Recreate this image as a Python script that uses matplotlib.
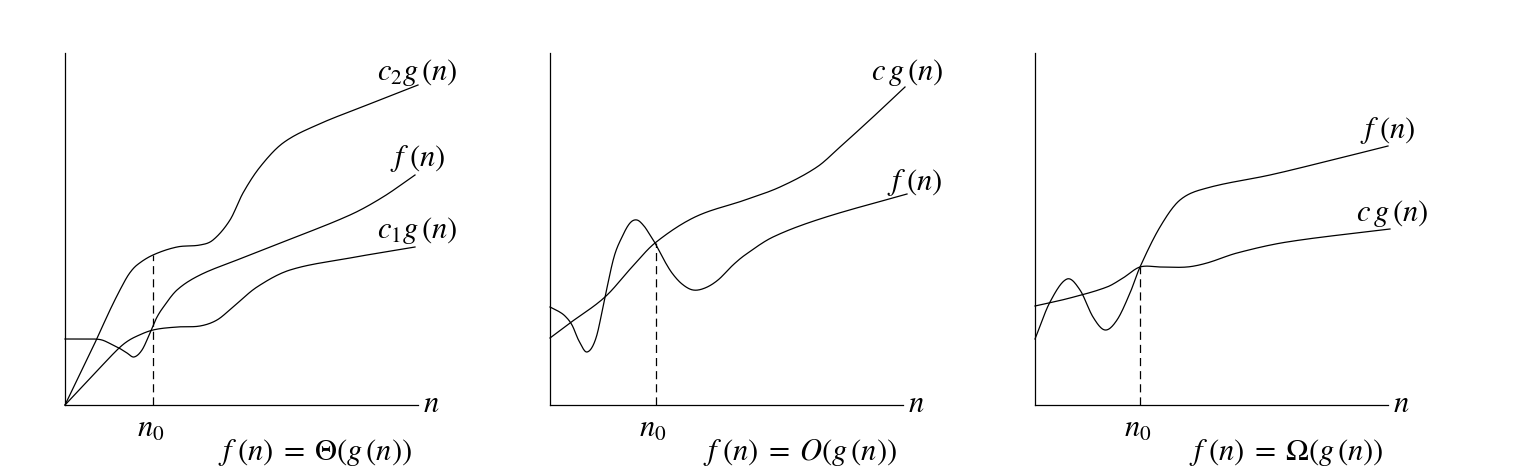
import numpy as np
import matplotlib
matplotlib.use("Agg")
import matplotlib.pyplot as plt

plt.rcParams['mathtext.fontset'] = 'stix'
plt.rcParams['font.family'] = 'STIXGeneral'

# hand-read knots, x = distance along n, y = height (pixel units of the picture)
theta_c2_x = [0, 28, 45, 56, 64, 72, 88, 112, 135, 148, 165, 178, 195, 218, 252, 302, 353]
theta_c2_y = [0, 58, 95, 117, 131, 140, 150, 158, 160, 165, 185, 212, 238, 262, 280, 300, 320]
theta_f_x = [0, 28, 37, 46, 54, 62, 69, 77, 85, 91, 97, 112, 135, 172, 218, 285, 318, 350]
theta_f_y = [66, 66, 65, 61, 57, 52, 48, 55, 72, 86, 96, 115, 130, 145, 163, 190, 208, 230]
theta_c1_x = [0, 25, 50, 60, 70, 88, 112, 135, 152, 168, 192, 225, 285, 350]
theta_c1_y = [0, 26.5, 53, 62, 68, 75, 78, 79, 85, 98, 118, 135, 147, 158]

bigo_cg_x = [0, 20, 55, 82, 105, 145, 195, 230, 267, 290, 323, 355]
bigo_cg_y = [67, 82, 108, 138, 162, 188, 205, 218, 238, 258, 288, 318]
bigo_f_x = [0, 8, 15, 22, 29, 37, 46, 55, 64, 72, 80, 87, 94, 100, 105, 114, 122, 132, 143, 155,
            168, 183, 195, 223, 273, 357]
bigo_f_y = [98, 94, 89, 80, 64, 53, 67, 108, 148, 168, 182, 185, 179, 170, 162, 145, 132, 121, 115,
            117, 125, 140, 150, 168, 187, 211]

omega_cg_x = [0, 35, 72, 88, 105, 125, 152, 172, 202, 252, 355]
omega_cg_y = [99, 107, 118, 127, 138, 138, 138, 142, 152, 163, 176]
omega_f_x = [0, 15, 32, 45, 58, 70, 82, 95, 105, 125, 145, 172, 235, 285, 353]
omega_f_y = [66, 103, 126, 115, 88, 75, 85, 112, 138, 178, 205, 217, 230, 242, 259]

n0_pos = [88, 106, 105]
n0_top = [150, 162, 138]
captions = [r'$f\;(n)\;=\;\Theta(g\,(n))$', r'$f\;(n)\;=\;O(g\,(n))$',
            r'$f\;(n)\;=\;\Omega(g\,(n))$']


def smooth(xs, ys, k=20):
    # cubic Hermite in x, tangents from neighbouring knots
    x = np.asarray(xs, float)
    y = np.asarray(ys, float)
    m = np.empty_like(y)
    m[1:-1] = (y[2:] - y[:-2]) / (x[2:] - x[:-2])
    m[0] = (y[1] - y[0]) / (x[1] - x[0])
    m[-1] = (y[-1] - y[-2]) / (x[-1] - x[-2])
    px, py = [], []
    for i in range(len(x) - 1):
        h = x[i + 1] - x[i]
        t = np.linspace(0, 1, k, endpoint=False)
        h00 = 2 * t**3 - 3 * t**2 + 1
        h10 = t**3 - 2 * t**2 + t
        h01 = -2 * t**3 + 3 * t**2
        h11 = t**3 - t**2
        px.append(x[i] + t * h)
        py.append(h00 * y[i] + h10 * h * m[i] + h01 * y[i + 1] + h11 * h * m[i + 1])
    px.append([x[-1]])
    py.append([y[-1]])
    return np.concatenate(px), np.concatenate(py)


W, H = 1533, 473
fig = plt.figure(figsize=(W / 100, H / 100), dpi=100)

lefts = [65, 550, 1035]
axes = []
for left in lefts:
    ax = fig.add_axes([left / W, (H - 405) / H, 353 / W, 352 / H])
    ax.set_xlim(0, 353)
    ax.set_ylim(0, 352)
    for s in ['top', 'right']:
        ax.spines[s].set_visible(False)
    for s in ['left', 'bottom']:
        ax.spines[s].set_linewidth(0.9)
    ax.set_xticks([])
    ax.set_yticks([])
    axes.append(ax)

lw = 0.9
curves = [
    [(theta_c2_x, theta_c2_y), (theta_f_x, theta_f_y), (theta_c1_x, theta_c1_y)],
    [(bigo_cg_x, bigo_cg_y), (bigo_f_x, bigo_f_y)],
    [(omega_cg_x, omega_cg_y), (omega_f_x, omega_f_y)],
]
labels = [
    [(r'$c_2g\,(n)$', 352, 333), (r'$f\;(n)$', 353, 247), (r'$c_1g\,(n)$', 352, 175)],
    [(r'$c\,g\,(n)$', 357, 333), (r'$f\;(n)$', 365, 223)],
    [(r'$f\;(n)$', 353, 275), (r'$c\,g\,(n)$', 357, 192)],
]
n0_lab = [86, 103, 103]
cap_x = [250, 250, 251]

fs = 22
for i, ax in enumerate(axes):
    for xs, ys in curves[i]:
        sx, sy = smooth(xs, ys)
        ax.plot(sx, sy, color='black', lw=lw, clip_on=False)
    ax.plot([n0_pos[i], n0_pos[i]], [0, n0_top[i]], color='black', lw=lw,
            ls=(0, (6.5, 4)), clip_on=False)
    for txt, x, y in labels[i]:
        ax.text(x, y, txt, fontsize=fs, ha='center', va='center')
    ax.text(366, 0, r'$n$', fontsize=fs, ha='center', va='center')
    ax.text(n0_lab[i], -25, r'$n_0$', fontsize=fs, ha='center', va='center')
    ax.text(cap_x[i], -47, captions[i], fontsize=fs, ha='center', va='center')

fig.savefig('out.png', dpi=100)
